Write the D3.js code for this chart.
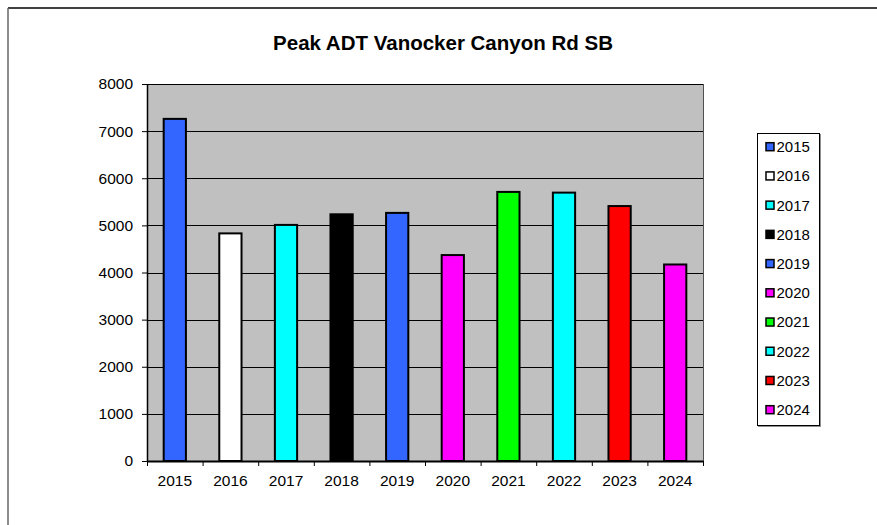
<!DOCTYPE html>
<html>
<head>
<meta charset="utf-8">
<script src="https://cdn.jsdelivr.net/npm/d3@7"></script>
<style>
  html, body { margin: 0; padding: 0; background: #fff; }
  svg { display: block; font-family: "Liberation Sans", Arial, sans-serif; }
</style>
</head>
<body>
<svg id="chart" width="877" height="525"></svg>
<script>
const title = "Peak ADT Vanocker Canyon Rd SB";
const years = ["2015","2016","2017","2018","2019","2020","2021","2022","2023","2024"];
const values = [7260, 4830, 5010, 5235, 5265, 4370, 5710, 5695, 5410, 4170];
const colors = ["#3366FF","#FFFFFF","#00FFFF","#000000","#3366FF","#FF00FF","#00FF00","#00FFFF","#FF0000","#FF00FF"];
const yTicks = [0,1000,2000,3000,4000,5000,6000,7000,8000];

const svg = d3.select("#chart");
const plot = {left: 147, right: 703, top: 84, bottom: 461};

// outer chart border
svg.append("line").attr("x1", 8).attr("x2", 877).attr("y1", 8).attr("y2", 8)
  .attr("stroke", "#000").attr("stroke-width", 1.5);
svg.append("line").attr("x1", 8).attr("x2", 8).attr("y1", 8).attr("y2", 525)
  .attr("stroke", "#666").attr("stroke-width", 1.5);

// title
svg.append("text").attr("x", 443).attr("y", 50).attr("text-anchor", "middle")
  .attr("font-size", "20.5px").attr("font-weight", "bold").attr("fill", "#000").text(title);

const y = d3.scaleLinear().domain([0, 8000]).range([plot.bottom, plot.top]);
const xBar = d3.scaleBand().domain(years).range([plot.left, plot.right]).paddingInner(0.6).paddingOuter(0.3);
const xCat = d3.scaleBand().domain(years).range([plot.left, plot.right]).padding(0);
const xIdx = d3.scaleLinear().domain([0, years.length]).range([plot.left, plot.right]);

// plot area
svg.append("rect").attr("x", plot.left).attr("y", plot.top)
  .attr("width", plot.right - plot.left).attr("height", plot.bottom - plot.top)
  .attr("fill", "#C0C0C0");
svg.append("line").attr("x1", plot.right + 0.5).attr("x2", plot.right + 0.5)
  .attr("y1", plot.top).attr("y2", plot.bottom).attr("stroke", "#505050").attr("stroke-width", 1);

// gridlines
svg.append("g").selectAll("line").data(yTicks.filter(d => d > 0)).join("line")
  .attr("x1", plot.left).attr("x2", plot.right)
  .attr("y1", d => Math.round(y(d)) + 0.5).attr("y2", d => Math.round(y(d)) + 0.5)
  .attr("stroke", "#000").attr("stroke-width", 1);

// bars
svg.append("g").selectAll("rect").data(years).join("rect")
  .attr("x", d => xBar(d))
  .attr("y", (d, i) => y(values[i]))
  .attr("width", xBar.bandwidth())
  .attr("height", (d, i) => y(0) - y(values[i]))
  .attr("fill", (d, i) => colors[i])
  .attr("stroke", "#000").attr("stroke-width", 2);

// y axis
const yAxis = svg.append("g").attr("transform", `translate(${plot.left},0)`)
  .call(d3.axisLeft(y).tickValues(yTicks).tickFormat(d3.format("d")).tickSize(5).tickPadding(9).tickSizeOuter(0));
yAxis.selectAll("text").attr("font-size", "15.5px").attr("fill", "#000").attr("font-family", "Liberation Sans, Arial, sans-serif");
yAxis.selectAll("line").attr("stroke", "#000");
yAxis.select(".domain").attr("stroke", "#000").attr("stroke-width", 1.5);

// x axis ticks at category boundaries
const xTickAxis = svg.append("g").attr("transform", `translate(0,${plot.bottom})`)
  .call(d3.axisBottom(xIdx).tickValues(d3.range(0, years.length + 1)).tickFormat("").tickSize(5).tickSizeOuter(0));
xTickAxis.selectAll("line").attr("stroke", "#000");
xTickAxis.select(".domain").attr("stroke", "#000").attr("stroke-width", 2);

// x labels
const xLab = svg.append("g").attr("transform", `translate(0,${plot.bottom})`)
  .call(d3.axisBottom(xCat).tickSize(0).tickPadding(14));
xLab.select(".domain").remove();
xLab.selectAll("text").attr("font-size", "15.5px").attr("fill", "#000").attr("font-family", "Liberation Sans, Arial, sans-serif");

// legend
const lg = {x: 757, y: 133, w: 62, h: 292};
svg.append("rect").attr("x", lg.x + 1.5).attr("y", lg.y + 1.5).attr("width", lg.w).attr("height", lg.h)
  .attr("fill", "none").attr("stroke", "#909090").attr("stroke-width", 1);
svg.append("rect").attr("x", lg.x + 0.5).attr("y", lg.y + 0.5).attr("width", lg.w).attr("height", lg.h)
  .attr("fill", "#fff").attr("stroke", "#000").attr("stroke-width", 1);
const ly = d3.scalePoint().domain(years).range([146.7, 409.7]);
const items = svg.append("g").selectAll("g").data(years).join("g")
  .attr("transform", d => `translate(0,${ly(d)})`);
items.append("rect").attr("x", 766).attr("y", -4).attr("width", 8).attr("height", 8)
  .attr("fill", (d, i) => colors[i]).attr("stroke", "#000").attr("stroke-width", 1.5);
items.append("text").attr("x", 776.5).attr("y", 0).attr("dy", "0.36em")
  .attr("font-size", "15px").attr("fill", "#000").text(d => d);
</script>
</body>
</html>
